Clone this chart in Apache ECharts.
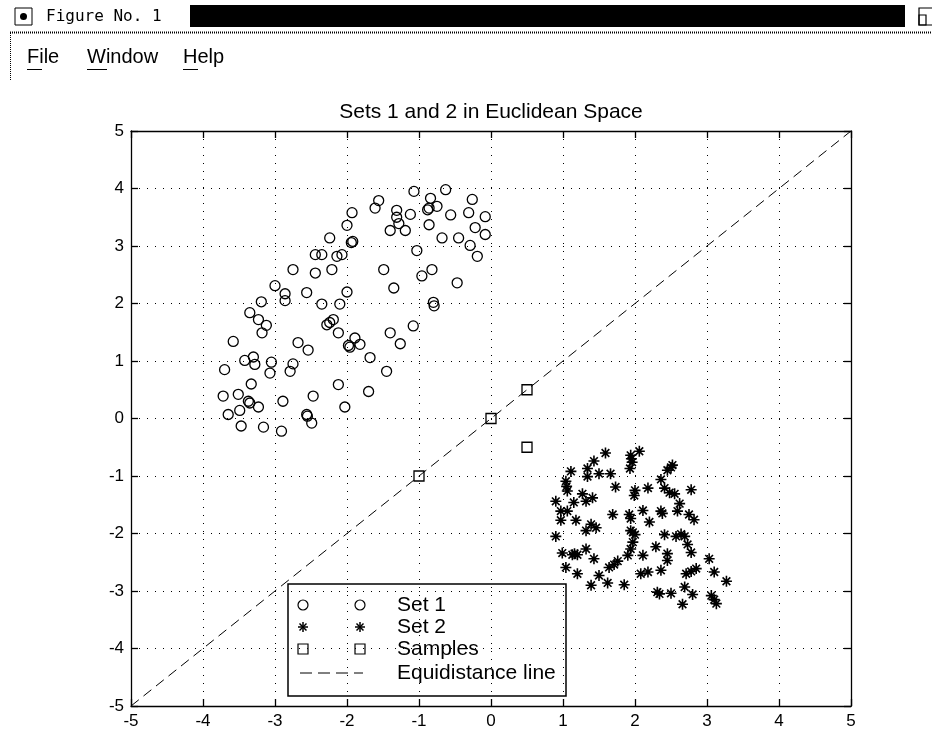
<!DOCTYPE html>
<html style="height: 100%">
<head>
    <meta charset="utf-8">
    <style>
        html, body { margin: 0; padding: 0; background: #fff; }
        #container { width: 932px; height: 732px; }
    </style>
</head>
<body>
<div id="container"></div>
<script type="text/javascript" src="https://cdn.jsdelivr.net/npm/echarts@6/dist/echarts.min.js"></script>
<script type="text/javascript">
    // tick values for both axes
    var ticks = [-5, -4, -3, -2, -1, 0, 1, 2, 3, 4, 5];

    // Set 1 (circles)
    var set1 = [
        [-1.07, 3.95], [-0.63, 3.98], [-1.56, 3.79], [-1.61, 3.66], [-1.93, 3.58],
        [-2.00, 3.36], [-1.94, 3.06], [-1.92, 3.08], [-1.31, 3.62], [-1.31, 3.50],
        [-1.28, 3.39], [-1.40, 3.27], [-1.19, 3.27], [-1.12, 3.55], [-0.84, 3.83],
        [-0.75, 3.69], [-0.88, 3.63], [-0.86, 3.66], [-0.86, 3.37], [-0.56, 3.54],
        [-0.26, 3.81], [-0.31, 3.58], [-0.08, 3.51], [-0.22, 3.32], [-0.08, 3.20],
        [-0.68, 3.14], [-0.45, 3.14], [-0.29, 3.01], [-0.19, 2.82], [-1.03, 2.92],
        [-1.49, 2.59], [-1.35, 2.27], [-0.96, 2.48], [-0.82, 2.59], [-0.47, 2.36],
        [-0.80, 2.02], [-0.79, 1.96], [-2.00, 2.20], [-2.24, 3.14], [-2.44, 2.85],
        [-2.35, 2.85], [-2.14, 2.82], [-2.07, 2.85], [-2.75, 2.59], [-2.44, 2.53],
        [-2.21, 2.59], [-3.00, 2.31], [-2.86, 2.17], [-2.86, 2.05], [-2.56, 2.19],
        [-3.19, 2.03], [-2.35, 1.99], [-2.10, 1.99], [-3.35, 1.84], [-3.23, 1.72],
        [-3.12, 1.62], [-3.18, 1.49], [-3.58, 1.34], [-2.68, 1.32], [-2.54, 1.19],
        [-2.28, 1.63], [-2.24, 1.67], [-2.19, 1.72], [-2.12, 1.49], [-1.98, 1.27],
        [-3.42, 1.01], [-3.30, 1.07], [-3.28, 0.94], [-3.05, 0.98], [-3.07, 0.79],
        [-2.75, 0.95], [-2.79, 0.82], [-3.70, 0.85], [-3.33, 0.60], [-2.12, 0.59],
        [-3.72, 0.39], [-3.51, 0.42], [-3.37, 0.30], [-3.35, 0.27], [-3.23, 0.20],
        [-3.49, 0.14], [-3.65, 0.07], [-2.89, 0.30], [-2.47, 0.39], [-2.56, 0.07],
        [-2.55, 0.04], [-2.49, -0.08], [-3.47, -0.13], [-3.16, -0.15], [-2.91, -0.22],
        [-2.03, 0.20], [-1.08, 1.61], [-1.40, 1.49], [-1.26, 1.30], [-1.89, 1.40],
        [-1.82, 1.29], [-1.96, 1.24], [-1.68, 1.06], [-1.45, 0.82], [-1.70, 0.47]
    ];

    // Set 2 (stars)
    var set2 = [
        [1.59, -0.60], [1.43, -0.74], [1.11, -0.92], [1.34, -0.87], [1.34, -1.01],
        [1.50, -0.96], [1.66, -0.96], [1.04, -1.09], [1.05, -1.18], [1.06, -1.26],
        [1.94, -0.64], [1.96, -0.76], [1.93, -0.87], [2.06, -0.57], [1.73, -1.19],
        [2.00, -1.25], [1.99, -1.34], [0.90, -1.44], [1.15, -1.46], [1.27, -1.31],
        [1.32, -1.44], [1.41, -1.38], [0.97, -1.61], [1.06, -1.61], [0.97, -1.77],
        [1.18, -1.77], [1.69, -1.67], [1.92, -1.67], [1.94, -1.74], [2.11, -1.60],
        [1.32, -1.95], [1.39, -1.84], [1.46, -1.90], [0.90, -2.05], [1.94, -1.95],
        [1.97, -1.98], [1.97, -2.15], [1.94, -2.27], [0.99, -2.34], [1.13, -2.37],
        [1.20, -2.37], [1.32, -2.27], [1.43, -2.44], [1.90, -2.38], [1.04, -2.59],
        [1.20, -2.70], [1.64, -2.59], [1.71, -2.54], [1.76, -2.48], [1.50, -2.73],
        [1.62, -2.86], [1.39, -2.90], [1.85, -2.89], [2.08, -2.70], [2.11, -2.38],
        [2.50, -0.85], [2.45, -0.90], [2.36, -1.06], [2.18, -1.21], [2.41, -1.21],
        [2.48, -1.29], [2.55, -1.31], [2.78, -1.24], [2.62, -1.48], [2.59, -1.61],
        [2.75, -1.67], [2.82, -1.76], [2.36, -1.61], [2.38, -1.65], [2.20, -1.80],
        [2.41, -2.02], [2.57, -2.05], [2.64, -2.01], [2.69, -2.05], [2.73, -2.19],
        [2.78, -2.33], [2.29, -2.23], [2.45, -2.35], [2.45, -2.47], [3.03, -2.44],
        [2.36, -2.64], [2.18, -2.67], [2.71, -2.70], [2.78, -2.66], [2.85, -2.61],
        [3.10, -2.67], [3.27, -2.83], [2.69, -2.93], [2.31, -3.02], [2.34, -3.05],
        [2.50, -3.04], [2.80, -3.06], [2.66, -3.23], [3.06, -3.08], [3.10, -3.15],
        [3.13, -3.22], [2.52, -0.81], [1.95, -0.70], [1.16, -2.35], [2.00, -2.02]
    ];

    // samples (squares)
    var samples = [[0.5, 0.5], [0, 0], [0.5, -0.5], [-1, -1]];

    // equidistance line end points
    var eqLine = [[-5, -5], [5, 5]];

    var starPath = 'path://M5,0L5,10M0,5L10,5M1.5,1.5L8.5,8.5M1.5,8.5L8.5,1.5';
    var fontName = '"Liberation Sans", Arial, Helvetica, sans-serif';

    var dom = document.getElementById('container');
    var myChart = echarts.init(dom);

    var gridStyle = { color: '#000', width: 1, type: [1, 7] };

    function mainAxis(pos) {
        return {
            type: 'value',
            position: pos,
            min: ticks[0],
            max: ticks[ticks.length - 1],
            interval: 1,
            axisLine: { show: true, onZero: false, lineStyle: { color: '#000', width: 1.3 } },
            axisTick: { show: true, inside: true, length: 7, lineStyle: { color: '#000', width: 1.3 } },
            axisLabel: { color: '#000', fontSize: 17, fontFamily: fontName, margin: 7 },
            splitLine: { show: true, lineStyle: gridStyle }
        };
    }
    function boxAxis(pos) {
        return {
            type: 'value',
            position: pos,
            min: ticks[0],
            max: ticks[ticks.length - 1],
            interval: 1,
            axisLine: { show: true, onZero: false, lineStyle: { color: '#000', width: 1.3 } },
            axisTick: { show: true, inside: true, length: 7, lineStyle: { color: '#000', width: 1.3 } },
            axisLabel: { show: false },
            splitLine: { show: false }
        };
    }

    function ln(x1, y1, x2, y2, w, dash) {
        var st = { stroke: '#000', lineWidth: w || 1 };
        if (dash) st.lineDash = dash;
        return { type: 'line', shape: { x1: x1, y1: y1, x2: x2, y2: y2 }, style: st };
    }

    // legend drawn MATLAB style: two symbols per row, then the label
    var legX = 288, legY = 584, rowY = [605, 627, 649, 673];
    var legendItems = [
        { type: 'rect', shape: { x: legX, y: legY, width: 278, height: 112 },
          style: { fill: 'none', stroke: '#000', lineWidth: 1.5 } },
        { type: 'circle', shape: { cx: 303, cy: rowY[0], r: 5 }, style: { fill: 'none', stroke: '#000', lineWidth: 1.2 } },
        { type: 'circle', shape: { cx: 360, cy: rowY[0], r: 5 }, style: { fill: 'none', stroke: '#000', lineWidth: 1.2 } },
        { type: 'rect', shape: { x: 298, y: rowY[2] - 5, width: 10, height: 10 }, style: { fill: 'none', stroke: '#000', lineWidth: 1.2 } },
        { type: 'rect', shape: { x: 355, y: rowY[2] - 5, width: 10, height: 10 }, style: { fill: 'none', stroke: '#000', lineWidth: 1.2 } },
        ln(300, rowY[3], 363, rowY[3], 1, [12, 6])
    ];
    [303, 360].forEach(function (cx) {
        var cy = rowY[1];
        legendItems.push(ln(cx, cy - 5, cx, cy + 5, 1.5));
        legendItems.push(ln(cx - 5, cy, cx + 5, cy, 1.5));
        legendItems.push(ln(cx - 3.5, cy - 3.5, cx + 3.5, cy + 3.5, 1.5));
        legendItems.push(ln(cx - 3.5, cy + 3.5, cx + 3.5, cy - 3.5, 1.5));
    });
    ['Set 1', 'Set 2', 'Samples', 'Equidistance line'].forEach(function (t, i) {
        legendItems.push({
            type: 'text', x: 397, y: rowY[i],
            style: { text: t, fill: '#000', font: '21px ' + fontName, textVerticalAlign: 'middle' }
        });
    });

    // window decoration: title bar and menu
    var headerItems = [
        { type: 'rect', shape: { x: 15, y: 8, width: 17, height: 17 }, style: { fill: 'none', stroke: '#000', lineWidth: 1 } },
        { type: 'circle', shape: { cx: 23.5, cy: 16.5, r: 3.5 }, style: { fill: '#000' } },
        { type: 'text', x: 46, y: 17, style: { text: 'Figure No. 1', fill: '#000', font: '16px "DejaVu Sans Mono", monospace', textVerticalAlign: 'middle' } },
        { type: 'rect', shape: { x: 190, y: 5, width: 715, height: 22 }, style: { fill: '#000' } },
        { type: 'rect', shape: { x: 919, y: 8, width: 14, height: 17 }, style: { fill: 'none', stroke: '#000', lineWidth: 1.2 } },
        { type: 'rect', shape: { x: 919, y: 15, width: 7, height: 10 }, style: { fill: 'none', stroke: '#000', lineWidth: 1.2 } },
        ln(10, 32.5, 932, 32.5, 2, [1, 1]),
        ln(10.5, 33, 10.5, 80, 1, [1, 1]),
        { type: 'text', x: 27, y: 57, style: { text: 'File', fill: '#000', font: '20px ' + fontName, textVerticalAlign: 'middle' } },
        { type: 'text', x: 87, y: 57, style: { text: 'Window', fill: '#000', font: '20px ' + fontName, textVerticalAlign: 'middle' } },
        { type: 'text', x: 183, y: 57, style: { text: 'Help', fill: '#000', font: '20px ' + fontName, textVerticalAlign: 'middle' } },
        ln(27, 69.5, 42, 69.5),
        ln(87, 69.5, 107, 69.5),
        ln(183, 69.5, 198, 69.5),
        { type: 'text', x: 491, y: 112, style: { text: 'Sets 1 and 2 in Euclidean Space', fill: '#000', font: '21px ' + fontName, textAlign: 'center', textVerticalAlign: 'middle' } }
    ];

    var option = {
        animation: false,
        backgroundColor: '#fff',
        grid: { left: 131, right: 81, top: 131, bottom: 26, containLabel: false },
        xAxis: [mainAxis('bottom'), boxAxis('top')],
        yAxis: [mainAxis('left'), boxAxis('right')],
        graphic: headerItems.concat(legendItems),
        series: [
            {
                name: 'Equidistance line',
                type: 'line',
                data: eqLine,
                showSymbol: false,
                lineStyle: { color: '#000', width: 1, type: [10, 6] },
                z: 1
            },
            {
                name: 'Set 1',
                type: 'scatter',
                data: set1,
                symbol: 'circle',
                symbolSize: 10,
                itemStyle: { color: 'rgba(0,0,0,0)', borderColor: '#000', borderWidth: 1.3, opacity: 1 }
            },
            {
                name: 'Set 2',
                type: 'scatter',
                data: set2,
                symbol: starPath,
                symbolSize: 11,
                itemStyle: { color: 'rgba(0,0,0,0)', borderColor: '#000', borderWidth: 1.6, opacity: 1 }
            },
            {
                name: 'Samples',
                type: 'scatter',
                data: samples,
                symbol: 'rect',
                symbolSize: 10,
                itemStyle: { color: 'rgba(0,0,0,0)', borderColor: '#000', borderWidth: 1.3, opacity: 1 }
            }
        ]
    };

    if (option && typeof option === 'object') {
        myChart.setOption(option);
    }
</script>
</body>
</html>
